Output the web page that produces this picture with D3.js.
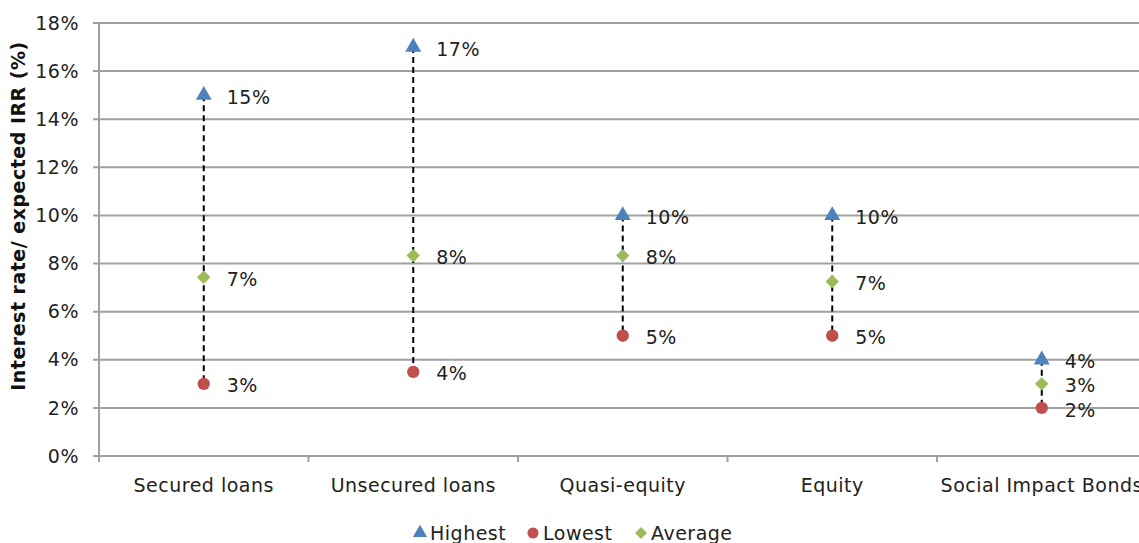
<!DOCTYPE html>
<html>
<head>
<meta charset="utf-8">
<script src="https://cdn.jsdelivr.net/npm/d3@7"></script>
<style>
  body { margin: 0; background: #fff; }
  svg { display: block; font-family: 'DejaVu Sans', sans-serif; }
  text { letter-spacing: 0.5px; }
</style>
</head>
<body>
<div id="chart"></div>
<script>
const categories = ['Secured loans', 'Unsecured loans', 'Quasi-equity', 'Equity', 'Social Impact Bonds'];
const highest = [15, 17, 10, 10, 4];
const lowest = [3, 3.5, 5, 5, 2];
const average = [7.43, 8.33, 8.33, 7.25, 3];
const yTicks = [0, 2, 4, 6, 8, 10, 12, 14, 16, 18];

const width = 1139;
const height = 543;
const margin = { top: 23, left: 99, bottom: 87 };
const plotBottom = height - margin.bottom;
const fontSize = 19;

const svg = d3.select('#chart')
    .append('svg')
    .attr('width', width)
    .attr('height', height);

const x = d3.scaleBand()
    .domain(categories)
    .range([margin.left, margin.left + 209.5 * categories.length]);

const y = d3.scaleLinear()
    .domain([0, 18])
    .range([plotBottom, margin.top]);

// gridlines
svg.append('g')
    .selectAll('line')
    .data(yTicks)
    .join('line')
    .attr('x1', margin.left - 6)
    .attr('x2', width)
    .attr('y1', (d) => y(d))
    .attr('y2', (d) => y(d))
    .attr('stroke', '#a0a0a0')
    .attr('stroke-width', 2);

// y axis line
svg.append('line')
    .attr('x1', margin.left)
    .attr('x2', margin.left)
    .attr('y1', margin.top)
    .attr('y2', plotBottom)
    .attr('stroke', '#a0a0a0')
    .attr('stroke-width', 2);

// y tick labels
svg.append('g')
    .selectAll('text')
    .data(yTicks)
    .join('text')
    .attr('x', margin.left - 20)
    .attr('y', (d) => y(d))
    .attr('dy', '0.35em')
    .attr('text-anchor', 'end')
    .attr('font-size', fontSize)
    .attr('fill', '#222')
    .text((d) => d + '%');

// x category ticks
svg.append('g')
    .selectAll('line')
    .data(categories)
    .join('line')
    .attr('x1', (d) => x(d))
    .attr('x2', (d) => x(d))
    .attr('y1', plotBottom)
    .attr('y2', plotBottom + 6)
    .attr('stroke', '#a0a0a0')
    .attr('stroke-width', 2);

// x labels
svg.append('g')
    .selectAll('text')
    .data(categories)
    .join('text')
    .attr('x', (d) => x(d) + x.bandwidth() / 2)
    .attr('y', plotBottom + 29)
    .attr('dy', '0.35em')
    .attr('text-anchor', 'middle')
    .attr('font-size', fontSize)
    .attr('fill', '#222')
    .text((d) => d);

// y title
svg.append('text')
    .attr('transform', `translate(25,216) rotate(-90)`)
    .attr('text-anchor', 'middle')
    .attr('font-size', fontSize)
    .attr('font-weight', 'bold')
    .attr('fill', '#111')
    .text('Interest rate/ expected IRR (%)');

const cx = (i) => x(categories[i]) + x.bandwidth() / 2;

// dashed high-low lines
svg.append('g')
    .selectAll('line')
    .data(categories)
    .join('line')
    .attr('x1', (d, i) => cx(i))
    .attr('x2', (d, i) => cx(i))
    .attr('y1', (d, i) => y(highest[i]))
    .attr('y2', (d, i) => y(lowest[i]))
    .attr('stroke', '#000')
    .attr('stroke-width', 2)
    .attr('stroke-dasharray', '6,4');

const series = [
    { name: 'Highest', values: highest, color: '#4f81bd', symbol: d3.symbolTriangle, size: 110, rot: 0 },
    { name: 'Lowest', values: lowest, color: '#c0504d', symbol: d3.symbolCircle, size: 120, rot: 0 },
    { name: 'Average', values: average, color: '#9bbb59', symbol: d3.symbolSquare, size: 90, rot: 45 },
];

series.forEach((s) => {
    const g = svg.append('g');
    g.selectAll('path')
        .data(s.values)
        .join('path')
        .attr('transform', (d, i) => `translate(${cx(i)},${y(d)}) rotate(${s.rot})`)
        .attr('d', d3.symbol().type(s.symbol).size(s.size))
        .attr('fill', s.color);
    g.selectAll('text')
        .data(s.values)
        .join('text')
        .attr('x', (d, i) => cx(i) + 23)
        .attr('y', (d) => y(d) + 2)
        .attr('dy', '0.35em')
        .attr('font-size', fontSize)
        .attr('fill', '#222')
        .text((d) => Math.round(d) + '%');
});

// legend
const legendX = [420, 533, 641];
const legend = svg.append('g')
    .selectAll('g')
    .data(series)
    .join('g')
    .attr('transform', (d, i) => `translate(${legendX[i]},533)`);
legend.append('path')
    .attr('transform', (d) => `rotate(${d.rot})`)
    .attr('d', (d) => d3.symbol().type(d.symbol).size(d.size * 0.8)())
    .attr('fill', (d) => d.color);
legend.append('text')
    .attr('x', 10)
    .attr('dy', '0.35em')
    .attr('font-size', fontSize)
    .attr('fill', '#222')
    .text((d) => d.name);
</script>
</body>
</html>
